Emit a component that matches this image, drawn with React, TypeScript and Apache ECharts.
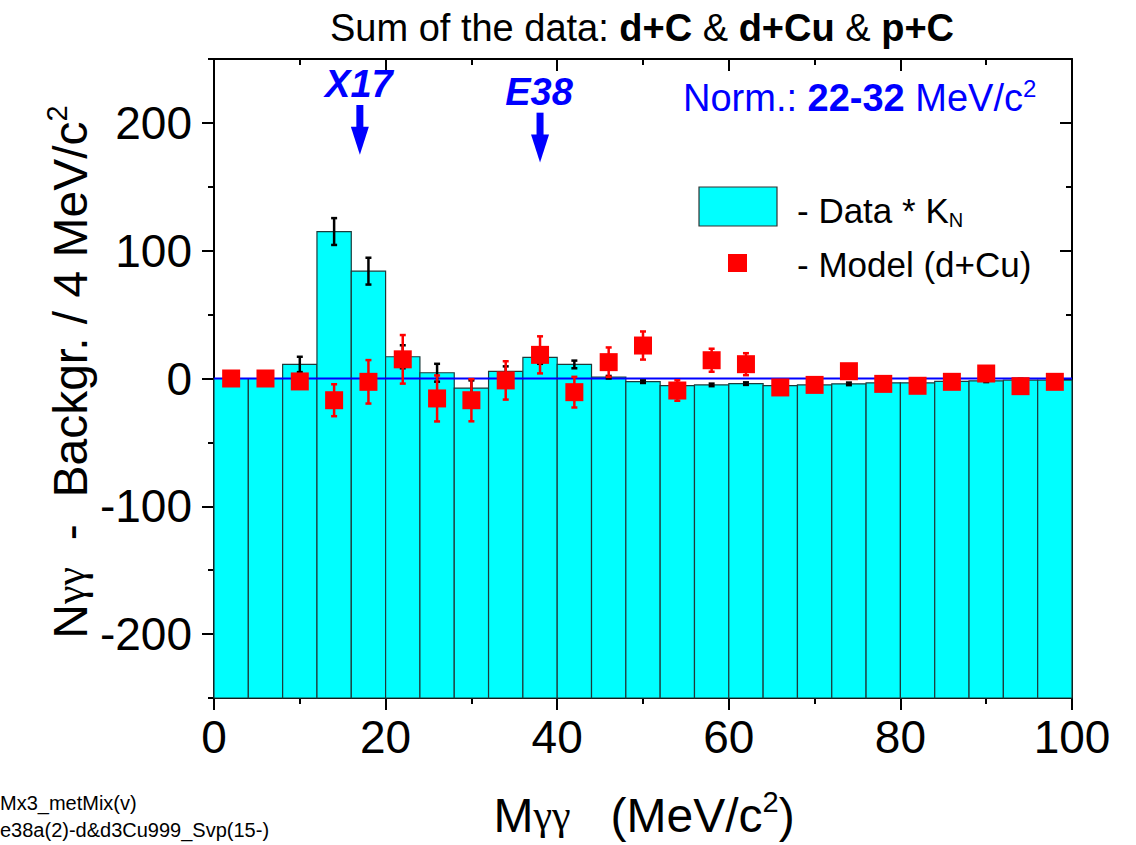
import React, { useEffect, useRef } from 'react';
import * as echarts from 'echarts';

// ---- data ----
const binCenters = [2, 6, 10, 14, 18, 22, 26, 30, 34, 38, 42, 46, 50, 54, 58, 62, 66, 70, 74, 78, 82, 86, 90, 94, 98];
const binWidth = 4;
const dataValues = [0, 0, 11, 115, 84, 17, 4.5, -7.5, 5.5, 16.5, 11, 1, -2.5, -5.5, -5, -4, -5.6, -5, -4.2, -3.4, -3.4, -2.3, -1.8, -1.3, -1.3];
const dataErrors = [0, 0, 6, 10.5, 10.5, 9, 7, 6, 4, 5, 3, 1, 1, 1.5, 1, 1, 1, 1, 1, 1, 1, 1, 1, 1, 1];
const modelValues = [0, 0, -2.3, -17, -2.6, 15, -15.6, -17, -1.5, 18.5, -10.7, 12.8, 25.8, -9.4, 14.3, 11.2, -7, -5, 5.7, -4.2, -5.7, -2.6, 3.9, -6, -2.6];
const modelErrors = [0, 0, 4, 12.5, 17, 19, 18, 16.5, 15, 14.5, 12, 11.5, 11, 8, 9, 8.6, 5, 4, 4, 3, 3, 3, 3, 3, 3];
const zeroLine = [[0, 0], [100, 0]];

const xMajorTicks = [0, 20, 40, 60, 80, 100];
const xMinorTicks = [10, 30, 50, 70, 90];
const yMajorTicks = [-200, -100, 0, 100, 200];
const yMinorTicks = [-250, -150, -50, 50, 150, 250];
const xRange = [0, 100];
const yRange = [-250, 250];

const markerNames = ['X17', 'E38'];
const markerX = [17, 38];
const markerTop = [214, 208];
const markerTip = [175, 169];

const FONT = '"Liberation Sans", Arial, sans-serif';
const SERIF = '"Liberation Serif", "DejaVu Serif", serif';

function errorBarRenderer(color: string, width: number, cap: number) {
  return (params: any, api: any) => {
    const x = api.value(0);
    const y = api.value(1);
    const e = api.value(2);
    if (!e) return { type: 'group', children: [] };
    const top = api.coord([x, y + e]);
    const bot = api.coord([x, y - e]);
    const st = { stroke: color, lineWidth: width };
    return {
      type: 'group',
      children: [
        { type: 'line', shape: { x1: top[0], y1: top[1], x2: bot[0], y2: bot[1] }, style: st },
        { type: 'line', shape: { x1: top[0] - cap, y1: top[1], x2: top[0] + cap, y2: top[1] }, style: st },
        { type: 'line', shape: { x1: bot[0] - cap, y1: bot[1], x2: bot[0] + cap, y2: bot[1] }, style: st },
      ],
    };
  };
}

export default function App() {
  const ref = useRef<HTMLDivElement>(null);

  useEffect(() => {
    if (!ref.current) return;
    const chart = echarts.init(ref.current, null, { renderer: 'svg' });

    const hidden = { show: false, onZero: false };
    const tickStyle = { color: '#000', width: 2 };
    const xBase = { type: 'value', min: xRange[0], max: xRange[1], splitLine: { show: false }, axisLabel: { show: false } };
    const yBase = { type: 'value', min: yRange[0], max: yRange[1], splitLine: { show: false }, axisLabel: { show: false } };

    const xAxis = [
      {
        ...xBase, position: 'bottom',
        axisLine: { show: true, onZero: false, lineStyle: { color: '#000', width: 2 } },
        axisTick: { show: true, customValues: xMajorTicks, length: 12, lineStyle: tickStyle },
        axisLabel: { show: true, customValues: xMajorTicks, fontSize: 46, color: '#000', fontFamily: FONT, margin: 16 },
      },
      { ...xBase, position: 'bottom', axisLine: hidden, axisTick: { show: true, customValues: xMinorTicks, length: 6, lineStyle: tickStyle } },
      {
        ...xBase, position: 'top',
        axisLine: { show: true, onZero: false, lineStyle: { color: '#000', width: 2 } },
        axisTick: { show: true, inside: true, customValues: xMajorTicks, length: 12, lineStyle: tickStyle },
      },
      { ...xBase, position: 'top', axisLine: hidden, axisTick: { show: true, inside: true, customValues: xMinorTicks, length: 6, lineStyle: tickStyle } },
    ];
    const yAxis = [
      {
        ...yBase, position: 'left',
        axisLine: { show: true, onZero: false, lineStyle: { color: '#000', width: 2 } },
        axisTick: { show: true, customValues: yMajorTicks, length: 12, lineStyle: tickStyle },
        axisLabel: { show: true, customValues: yMajorTicks, fontSize: 46, color: '#000', fontFamily: FONT, margin: 22 },
      },
      { ...yBase, position: 'left', axisLine: hidden, axisTick: { show: true, customValues: yMinorTicks, length: 6, lineStyle: tickStyle } },
      {
        ...yBase, position: 'right',
        axisLine: { show: true, onZero: false, lineStyle: { color: '#000', width: 2 } },
        axisTick: { show: true, inside: true, customValues: yMajorTicks, length: 12, lineStyle: tickStyle },
      },
      { ...yBase, position: 'right', axisLine: hidden, axisTick: { show: true, inside: true, customValues: yMinorTicks, length: 6, lineStyle: tickStyle } },
    ];

    const barData = binCenters.map((c, i) => [c, dataValues[i], dataErrors[i]]);
    const modelData = binCenters.map((c, i) => [c, modelValues[i], modelErrors[i]]);
    const arrowData = markerX.map((x, i) => [x, markerTop[i], markerTip[i]]);

    const option: any = {
      animation: false,
      backgroundColor: '#fff',
      grid: { left: 214, top: 59, width: 858, height: 639, containLabel: false },
      xAxis,
      yAxis,
      series: [
        {
          type: 'custom',
          name: 'Data * KN',
          xAxisIndex: 0, yAxisIndex: 0,
          z: 1,
          data: barData,
          renderItem: (params: any, api: any) => {
            const c = api.value(0);
            const v = api.value(1);
            const p0 = api.coord([c - binWidth / 2, v]);
            const p1 = api.coord([c + binWidth / 2, yRange[0]]);
            return {
              type: 'rect',
              shape: { x: p0[0], y: p0[1], width: p1[0] - p0[0], height: p1[1] - p0[1] },
              style: { fill: '#00ffff', stroke: '#1e3a3a', lineWidth: 1.2 },
            };
          },
        },
        {
          type: 'line',
          xAxisIndex: 0, yAxisIndex: 0,
          z: 2,
          data: zeroLine,
          symbol: 'none',
          lineStyle: { color: '#0000ff', width: 2 },
        },
        {
          type: 'custom',
          name: 'data errors',
          xAxisIndex: 0, yAxisIndex: 0,
          z: 3,
          data: barData,
          renderItem: errorBarRenderer('#000', 2.5, 3),
        },
        {
          type: 'custom',
          name: 'model errors',
          xAxisIndex: 0, yAxisIndex: 0,
          z: 4,
          data: modelData,
          renderItem: errorBarRenderer('#ff0000', 2.5, 3),
        },
        {
          type: 'scatter',
          name: 'Model (d+Cu)',
          xAxisIndex: 0, yAxisIndex: 0,
          z: 5,
          data: modelData.map((d) => [d[0], d[1]]),
          symbol: 'rect',
          symbolSize: 18,
          itemStyle: { color: '#ff0000', opacity: 1 },
        },
        {
          type: 'custom',
          name: 'arrows',
          xAxisIndex: 0, yAxisIndex: 0,
          z: 6,
          clip: false,
          data: arrowData,
          renderItem: (params: any, api: any) => {
            const x = api.value(0);
            const top = api.coord([x, api.value(1)]);
            const tip = api.coord([x, api.value(2)]);
            const headLen = 28;
            const headW = 9;
            const shaftW = 3.5;
            const hy = tip[1] - headLen;
            return {
              type: 'group',
              children: [
                { type: 'rect', shape: { x: top[0] - shaftW, y: top[1], width: shaftW * 2, height: hy - top[1] + 1 }, style: { fill: '#0000ff' } },
                { type: 'polygon', shape: { points: [[top[0] - headW, hy], [top[0] + headW, hy], [tip[0], tip[1]]] }, style: { fill: '#0000ff' } },
                {
                  type: 'text', x: top[0] - 1, y: top[1] - 2,
                  style: {
                    text: markerNames[params.dataIndex], fill: '#0000ff', fontSize: 38, fontWeight: 'bold', fontStyle: 'italic',
                    fontFamily: FONT, align: 'center', verticalAlign: 'bottom', lineHeight: 38,
                  },
                },
              ],
            };
          },
        },
      ],
      graphic: [
        {
          type: 'text', x: 642, y: 28,
          style: {
            text: '{r|Sum of the data: }{b|d+C}{r| & }{b|d+Cu}{r| & }{b|p+C}',
            align: 'center', verticalAlign: 'middle',
            rich: {
              r: { fontSize: 38, fontFamily: FONT, fill: '#000' },
              b: { fontSize: 38, fontFamily: FONT, fontWeight: 'bold', fill: '#000' },
            },
          },
        },
        {
          type: 'text', x: 683, y: 98,
          style: {
            text: '{n|Norm.: }{b|22-32}{n| MeV/c}{s|2}',
            align: 'left', verticalAlign: 'middle',
            rich: {
              n: { fontSize: 38, fontFamily: FONT, fill: '#0000ff', lineHeight: 44 },
              b: { fontSize: 38, fontFamily: FONT, fontWeight: 'bold', fill: '#0000ff', lineHeight: 44 },
              s: { fontSize: 24, fontFamily: FONT, fill: '#0000ff', verticalAlign: 'top', lineHeight: 24 },
            },
          },
        },
        {
          type: 'rect', shape: { x: 699, y: 187, width: 78, height: 39 },
          style: { fill: '#00ffff', stroke: '#333', lineWidth: 1.2 },
        },
        {
          type: 'text', x: 797, y: 210,
          style: {
            text: '{n|- Data * K}{s|N}',
            align: 'left', verticalAlign: 'middle',
            rich: {
              n: { fontSize: 35, fontFamily: FONT, fill: '#000', lineHeight: 40 },
              s: { fontSize: 20, fontFamily: FONT, fill: '#000', verticalAlign: 'bottom', lineHeight: 20 },
            },
          },
        },
        {
          type: 'rect', shape: { x: 728, y: 254, width: 19, height: 18 },
          style: { fill: '#ff0000' },
        },
        {
          type: 'text', x: 797, y: 264,
          style: { text: '- Model (d+Cu)', fontSize: 35, fontFamily: FONT, fill: '#000', align: 'left', verticalAlign: 'middle' },
        },
        {
          type: 'text', x: 644, y: 815,
          style: {
            text: '{n|M}{g|γγ}{n|   (MeV/c}{s|2}{n|)}',
            align: 'center', verticalAlign: 'middle',
            rich: {
              n: { fontSize: 48, fontFamily: FONT, fill: '#000', lineHeight: 56 },
              g: { fontSize: 42, fontFamily: SERIF, fill: '#000', lineHeight: 56 },
              s: { fontSize: 29, fontFamily: FONT, fill: '#000', verticalAlign: 'top', lineHeight: 29 },
            },
          },
        },
        {
          type: 'text', x: 70, y: 372, rotation: Math.PI / 2,
          style: {
            text: '{n|N}{g|γγ}{n|  -  Backgr. / 4 MeV/c}{s|2}',
            align: 'center', verticalAlign: 'middle',
            rich: {
              n: { fontSize: 48, fontFamily: FONT, fill: '#000', lineHeight: 56 },
              g: { fontSize: 42, fontFamily: SERIF, fill: '#000', lineHeight: 56 },
              s: { fontSize: 29, fontFamily: FONT, fill: '#000', verticalAlign: 'top', lineHeight: 29 },
            },
          },
        },
        {
          type: 'text', x: 0, y: 803,
          style: { text: 'Mx3_metMix(v)', fontSize: 20, fontFamily: FONT, fill: '#000', align: 'left', verticalAlign: 'middle' },
        },
        {
          type: 'text', x: 0, y: 830,
          style: { text: 'e38a(2)-d&d3Cu999_Svp(15-)', fontSize: 20, fontFamily: FONT, fill: '#000', align: 'left', verticalAlign: 'middle' },
        },
      ],
    };

    chart.setOption(option);
    return () => chart.dispose();
  }, []);

  return <div ref={ref} style={{ position: 'fixed', left: 0, top: 0, width: 1136, height: 845, background: '#fff' }} />;
}
